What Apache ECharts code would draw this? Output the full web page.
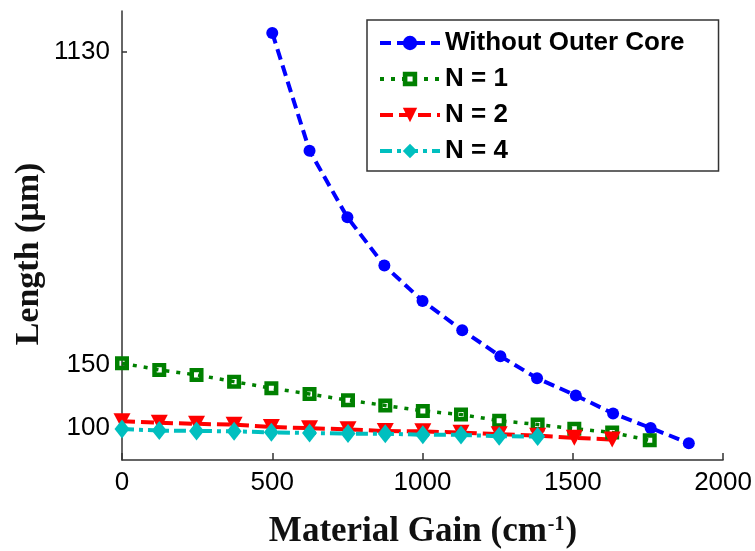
<!DOCTYPE html>
<html>
<head>
<meta charset="utf-8">
<script src="https://cdn.jsdelivr.net/npm/echarts@6/dist/echarts.min.js"></script>
<style>
  html, body { margin: 0; padding: 0; background: #ffffff; }
  #chart { width: 755px; height: 551px; }
</style>
</head>
<body>
<div id="chart"></div>
<script>
// Threshold length versus material gain for the four waveguide designs
const seriesNames = ['Without Outer Core', 'N = 1', 'N = 2', 'N = 4'];

const gainNoCore   = [500, 624, 750, 873, 1000, 1132, 1259, 1381, 1510, 1634, 1759, 1886];
const lengthNoCore = [1275, 597, 389, 285, 227, 188, 159, 138, 123.5, 110, 100.2, 90.8];

const gainN1   = [0, 124, 248, 373, 497, 624, 752, 876, 1001, 1128, 1255, 1383, 1505, 1631, 1756];
const lengthN1 = [152, 145.6, 141, 135, 129.4, 124.7, 119.7, 115.8, 111.8, 109.2, 105, 102.4, 99.7, 97.3, 92.5];

const gainN2   = [0, 124, 248, 373, 497, 624, 752, 876, 1001, 1128, 1255, 1383, 1505, 1631];
const lengthN2 = [104.6, 103.6, 102.9, 102.3, 100.8, 100, 99.3, 98.2, 98, 97.2, 96.2, 95.3, 94, 93];

const gainN4   = [0, 124, 248, 373, 497, 624, 752, 876, 1001, 1128, 1255, 1383];
const lengthN4 = [99.5, 98.5, 98.3, 98, 97.4, 97, 96.6, 96.5, 95.9, 95.8, 95, 94.8];

const xTicks = [0, 500, 1000, 1500, 2000];
const yTicks = [100, 150, 1130];

const pairs = (xs, ys) => xs.map((x, i) => [x, ys[i]]);

// thick square outline with a small open centre
const hollowSquare = 'path://M0,0L10,0L10,10L0,10Z M3.2,3.2L3.2,6.8L6.8,6.8L6.8,3.2Z';

const tickFont = { fontFamily: 'Liberation Sans, Arial, sans-serif', fontSize: 26, color: '#000000' };
const axisLine = { show: true, lineStyle: { color: '#333333', width: 1.5 } };

const chart = echarts.init(document.getElementById('chart'), null, { renderer: 'canvas' });

chart.setOption({
  animation: false,
  backgroundColor: '#ffffff',
  grid: { left: 122, right: 31, top: 11, bottom: 91, containLabel: false },
  xAxis: {
    type: 'value',
    min: 0,
    max: 2000,
    interval: 500,
    axisLine: axisLine,
    axisTick: { show: true, inside: true, length: 7, customValues: xTicks,
                lineStyle: { color: '#333333', width: 1.5 } },
    axisLabel: Object.assign({ margin: 10, customValues: xTicks,
                formatter: v => String(Math.round(v)) }, tickFont),
    splitLine: { show: false }
  },
  yAxis: {
    type: 'log',
    logBase: 10,
    min: 81.5,
    max: 1468.6,
    axisLine: axisLine,
    axisTick: { show: true, inside: true, length: 5, customValues: yTicks,
                lineStyle: { color: '#333333', width: 1.5 } },
    axisLabel: Object.assign({ margin: 12, customValues: yTicks,
                formatter: v => String(Math.round(v)) }, tickFont),
    splitLine: { show: false },
    minorTick: { show: false }
  },
  legend: {
    orient: 'vertical',
    left: 367,
    top: 20,
    itemWidth: 60,
    itemHeight: 18,
    itemGap: 10,
    padding: [10, 34, 7, 11],
    borderColor: '#333333',
    borderWidth: 1.5,
    backgroundColor: '#ffffff',
    lineStyle: { width: 4 },
    textStyle: { fontFamily: 'Liberation Sans, Arial, sans-serif', fontWeight: 'bold',
                 fontSize: 26, lineHeight: 25, color: '#000000' },
    data: seriesNames
  },
  graphic: [
    {
      type: 'text',
      x: 29, y: 254,
      rotation: Math.PI / 2,
      style: {
        text: 'Length (μm)',
        font: 'bold 34px "Liberation Serif", "Times New Roman", serif',
        fill: '#111111',
        align: 'center',
        verticalAlign: 'middle'
      }
    },
    {
      type: 'text',
      x: 423, y: 532,
      style: {
        text: '{a|Material Gain (cm}{s|-1}{a|)}',
        align: 'center',
        verticalAlign: 'middle',
        rich: {
          a: { font: 'bold 35px "Liberation Serif", "Times New Roman", serif', fill: '#111111' },
          s: { font: 'bold 20px "Liberation Serif", "Times New Roman", serif', fill: '#111111',
               verticalAlign: 'top', padding: [0, 1, 14, 1] }
        }
      }
    }
  ],
  series: [
    {
      name: seriesNames[0], type: 'line', data: pairs(gainNoCore, lengthNoCore),
      symbol: 'circle', symbolSize: 12,
      itemStyle: { color: '#0000ff' },
      lineStyle: { color: '#0000ff', width: 4, type: [11, 6] }
    },
    {
      name: seriesNames[1], type: 'line', data: pairs(gainN1, lengthN1),
      symbol: hollowSquare, symbolSize: 14, symbolKeepAspect: true,
      itemStyle: { color: '#008000' },
      lineStyle: { color: '#008000', width: 3.5, type: [4, 7] }
    },
    {
      name: seriesNames[2], type: 'line', data: pairs(gainN2, lengthN2),
      symbol: 'triangle', symbolRotate: 180, symbolSize: [17, 16],
      itemStyle: { color: '#ff0000' },
      lineStyle: { color: '#ff0000', width: 4, type: [13, 6] }
    },
    {
      name: seriesNames[3], type: 'line', data: pairs(gainN4, lengthN4),
      symbol: 'diamond', symbolSize: [15, 19],
      itemStyle: { color: '#00bfbf' },
      lineStyle: { color: '#00bfbf', width: 4, type: [12, 5, 4, 5] }
    }
  ]
});
</script>
</body>
</html>
